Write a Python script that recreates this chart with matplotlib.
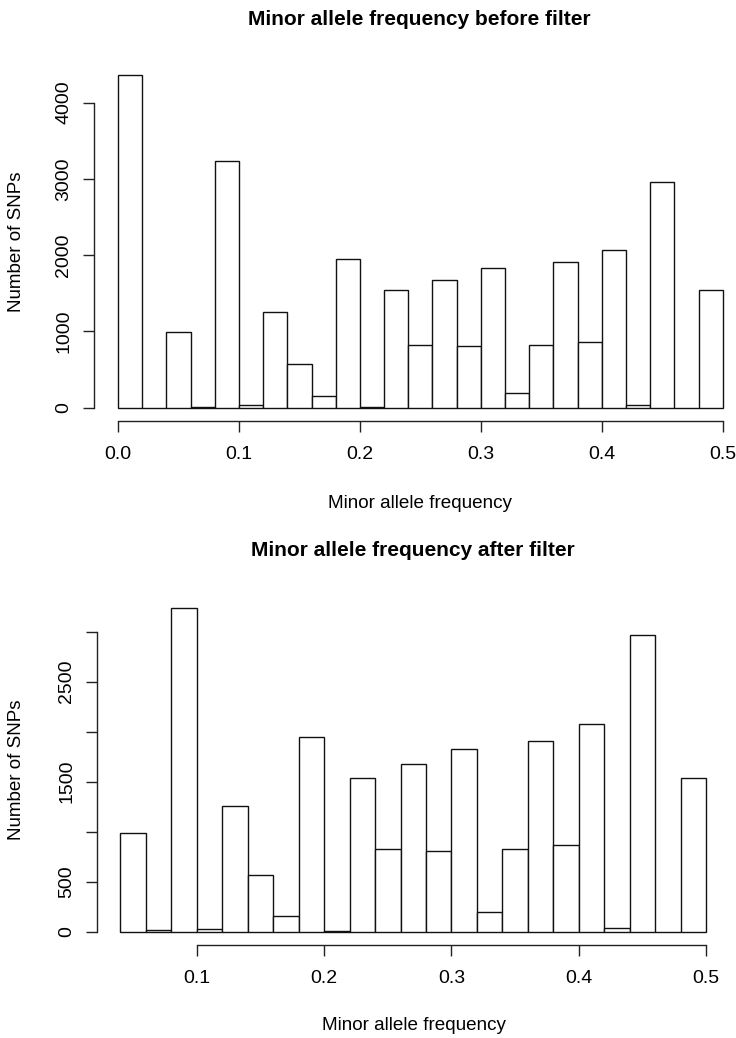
import numpy as np
import matplotlib
matplotlib.use("Agg")
import matplotlib.pyplot as plt

plt.rcParams['font.family'] = ['Liberation Sans', 'DejaVu Sans']

# --- data ---
bin_width = 0.02
before_starts = np.round(np.arange(0.0, 0.5, bin_width), 2)
before_counts = [4363, 0, 987, 12, 3235, 30, 1252, 568, 153, 1948, 6, 1541, 825,
                 1680, 803, 1830, 194, 825, 1912, 868, 2073, 40, 2966, 0, 1537]
after_starts = np.round(np.arange(0.04, 0.5, bin_width), 2)
after_counts = [987, 12, 3235, 30, 1252, 568, 153, 1948, 6, 1541, 825,
                1680, 803, 1830, 194, 825, 1912, 868, 2073, 40, 2966, 0, 1537]

before_xticks = [0.0, 0.1, 0.2, 0.3, 0.4, 0.5]
before_xlabels = ["0.0", "0.1", "0.2", "0.3", "0.4", "0.5"]
before_yticks = [0, 1000, 2000, 3000, 4000]
before_ylabels = ["0", "1000", "2000", "3000", "4000"]
after_xticks = [0.1, 0.2, 0.3, 0.4, 0.5]
after_xlabels = ["0.1", "0.2", "0.3", "0.4", "0.5"]
after_yticks = [0, 500, 1000, 1500, 2000, 2500, 3000]
after_ylabels = ["0", "500", "", "1500", "", "2500", ""]

W, H = 736, 1038
fig = plt.figure(figsize=(W / 100, H / 100), dpi=100)


def px_axes(left, top, right, bottom):
    return fig.add_axes([left / W, 1 - bottom / H, (right - left) / W, (bottom - top) / H])


def r_hist(ax, starts, counts, xticks, xlabels, yticks, ylabels):
    # R-style hist: white bars, detached axes, 4% padding
    ax.bar(starts, counts, width=bin_width, align='edge', color='white',
           edgecolor='#111111', linewidth=1.0)
    lo, hi = starts[0], starts[-1] + bin_width
    pad_x = (hi - lo) * 0.04
    pad_y = max(counts) * 0.04
    ax.set_xlim(lo - pad_x, hi + pad_x)
    ax.set_ylim(-pad_y, max(counts) + pad_y)
    for s in ['top', 'right']:
        ax.spines[s].set_visible(False)
    for s in ['left', 'bottom']:
        ax.spines[s].set_linewidth(1.0)
        ax.spines[s].set_color('#222222')
    ax.spines['bottom'].set_bounds(xticks[0], xticks[-1])
    ax.spines['left'].set_bounds(yticks[0], yticks[-1])
    ax.set_xticks(xticks)
    ax.set_xticklabels(xlabels)
    ax.set_yticks(yticks)
    ax.set_yticklabels(ylabels, rotation=90, va='center')
    ax.tick_params(length=8, width=1.0, color='#222222', labelsize=14)
    ax.tick_params(axis='x', pad=10)
    ax.tick_params(axis='y', pad=7.5)
    ax.patch.set_visible(False)


ax1 = px_axes(93.8, 61.7, 747, 421)
r_hist(ax1, before_starts, before_counts, before_xticks, before_xlabels,
       before_yticks, before_ylabels)
ax2 = px_axes(96.8, 595.3, 729.7, 944.6)
r_hist(ax2, after_starts, after_counts, after_xticks, after_xlabels,
       after_yticks, after_ylabels)

fig.text(419 / W, 1 - 19 / H, "Minor allele frequency before filter",
         ha='center', va='center', fontsize=15, fontweight='bold')
fig.text(420 / W, 1 - 503 / H, "Minor allele frequency",
         ha='center', va='center', fontsize=13.6)
fig.text(17 / W, 1 - 242 / H, "Number of SNPs", rotation=90,
         ha='center', va='center', fontsize=13.5)

fig.text(413 / W, 1 - 550 / H, "Minor allele frequency after filter",
         ha='center', va='center', fontsize=15, fontweight='bold')
fig.text(414 / W, 1 - 1025 / H, "Minor allele frequency",
         ha='center', va='center', fontsize=13.6)
fig.text(17 / W, 1 - 770 / H, "Number of SNPs", rotation=90,
         ha='center', va='center', fontsize=13.5)

fig.savefig("out.png", dpi=100)
